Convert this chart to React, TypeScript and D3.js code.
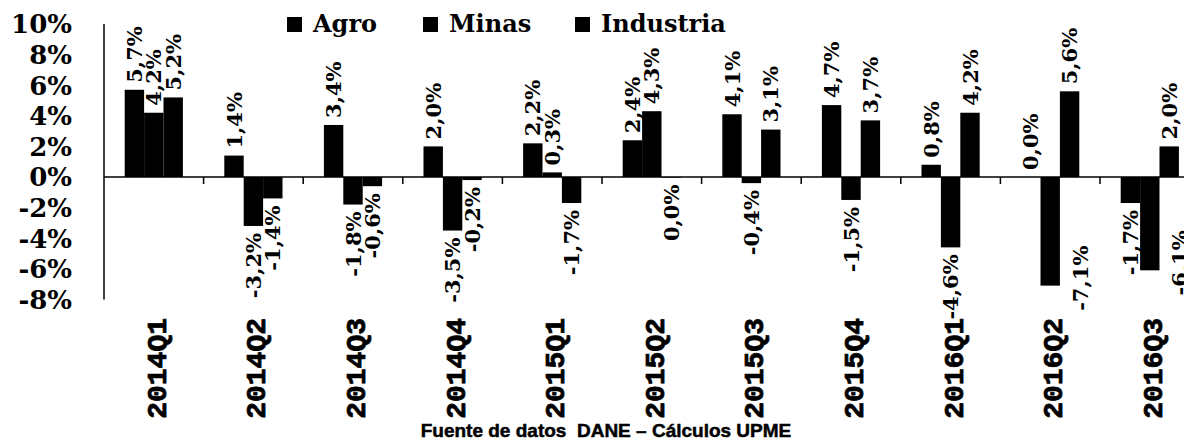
import React, { useEffect, useRef } from "react";
import * as d3 from "d3";

const categories = ["2014Q1", "2014Q2", "2014Q3", "2014Q4", "2015Q1", "2015Q2", "2015Q3", "2015Q4", "2016Q1", "2016Q2", "2016Q3"];
const seriesNames = ["Agro", "Minas", "Industria"];
const agro = [5.7, 1.4, 3.4, 2.0, 2.2, 2.4, 4.1, 4.7, 0.8, 0.0, -1.7];
const minas = [4.2, -3.2, -1.8, -3.5, 0.3, 4.3, -0.4, -1.5, -4.6, -7.1, -6.1];
const industria = [5.2, -1.4, -0.6, -0.2, -1.7, -0.04, 3.1, 3.7, 4.2, 5.6, 2.0];
const yTicks = [10, 8, 6, 4, 2, 0, -2, -4, -6, -8];
const footerText = "Fuente de datos  DANE \u2013 C\u00e1lculos UPME";

const W = 1184;
const H = 441;

function fmtLabel(v: number): string {
  if (Math.abs(v) < 0.05) return "0,0%";
  return v.toFixed(1).replace(".", ",") + "%";
}

export default function App() {
  const ref = useRef<SVGSVGElement | null>(null);

  useEffect(() => {
    document.body.style.margin = "0";
    const svg = d3.select(ref.current);
    svg.selectAll("*").remove();

    const serif = "'DejaVu Serif', serif";
    const step = 99.6;
    const x0 = 104;
    const x = d3.scaleBand<string>().domain(categories).range([x0, x0 + step * categories.length]).padding(0);
    const groupW = 58.2;
    const bw = x.bandwidth();
    const inner = d3.scaleBand<string>().domain(seriesNames).range([(bw - groupW) / 2, (bw + groupW) / 2]).padding(0);
    const y = d3.scaleLinear().domain([-8, 10]).range([299.4, 24]);
    const y0 = y(0);

    const data = [agro, minas, industria];

    // y axis line
    svg.append("line").attr("x1", x0).attr("x2", x0).attr("y1", y(10)).attr("y2", y(-8))
      .attr("stroke", "#000").attr("stroke-width", 1.5);

    // y tick labels
    svg.append("g").selectAll("text").data(yTicks).join("text")
      .attr("x", 72).attr("y", (d) => y(d)).attr("dy", "0.36em")
      .attr("text-anchor", "end")
      .attr("font-family", serif).attr("font-weight", "bold").attr("font-size", 26)
      .attr("fill", "#000")
      .text((d) => `${d}%`);

    // bars
    const gBars = svg.append("g");
    data.forEach((vals, si) => {
      gBars.append("g").selectAll("rect").data(vals).join("rect")
        .attr("x", (_d, i) => (x(categories[i]) as number) + (inner(seriesNames[si]) as number))
        .attr("width", inner.bandwidth())
        .attr("y", (d) => Math.min(y(d), y0))
        .attr("height", (d) => Math.abs(y(d) - y0))
        .attr("fill", "#000");
    });

    // zero line
    svg.append("line").attr("x1", x0).attr("x2", W).attr("y1", y0).attr("y2", y0)
      .attr("stroke", "#000").attr("stroke-width", 1.5);
    // category ticks
    svg.append("g").selectAll("line").data(categories.slice(1)).join("line")
      .attr("x1", (d) => x(d) as number).attr("x2", (d) => x(d) as number)
      .attr("y1", y0).attr("y2", y0 + 7)
      .attr("stroke", "#000").attr("stroke-width", 1.5);

    // data labels
    const gLab = svg.append("g");
    const plotBottom = 322;
    const gap = 7;
    data.forEach((vals, si) => {
      vals.forEach((v, i) => {
        const cx = (x(categories[i]) as number) + (inner(seriesNames[si]) as number) + inner.bandwidth() / 2;
        const end = y(v);
        const t = gLab.append("text")
          .attr("font-family", serif).attr("font-weight", "bold").attr("font-size", 21)
          .attr("fill", "#000")
          .attr("dy", "0.36em")
          .text(fmtLabel(v));
        const L = (t.node() as SVGTextElement).getComputedTextLength();
        if (v >= 0) {
          t.attr("text-anchor", "start")
            .attr("transform", `translate(${cx},${end - gap}) rotate(-90)`);
        } else {
          let top = end + gap;
          let lx = cx;
          if (top + L > plotBottom) {
            top = end - 40;
            lx = cx + 30;
          }
          t.attr("text-anchor", "end")
            .attr("transform", `translate(${lx},${top}) rotate(-90)`);
        }
      });
    });

    // x category labels
    svg.append("g").selectAll("text").data(categories).join("text")
      .attr("text-anchor", "end")
      .attr("dy", "0.36em")
      .attr("transform", (d) => `translate(${(x(d) as number) + bw / 2 + 2},318) rotate(-90)`)
      .attr("font-family", "'Liberation Mono', monospace").attr("font-weight", "bold").attr("font-size", 28)
      .attr("fill", "#000").attr("stroke", "#000").attr("stroke-width", 0.8)
      .text((d) => d);

    // legend
    const legendX = [287, 423, 575];
    const lg = svg.append("g");
    seriesNames.forEach((name, i) => {
      lg.append("rect").attr("x", legendX[i]).attr("y", 17).attr("width", 15).attr("height", 15).attr("fill", "#000");
      lg.append("text").attr("x", legendX[i] + 26).attr("y", 32)
        .attr("font-family", serif).attr("font-weight", "bold").attr("font-size", 24)
        .attr("fill", "#000").text(name);
    });

    // footer
    svg.append("text").attr("x", 606).attr("y", 437).attr("text-anchor", "middle")
      .attr("font-family", "'Liberation Sans', Arial, sans-serif").attr("font-weight", "bold").attr("font-size", 19)
      .attr("stroke", "#000").attr("stroke-width", 0.5)
      .style("white-space", "pre")
      .attr("fill", "#000").text(footerText);
  }, []);

  return (
    <svg ref={ref} width={W} height={H} style={{ display: "block", background: "#fff", overflow: "hidden" }} />
  );
}
